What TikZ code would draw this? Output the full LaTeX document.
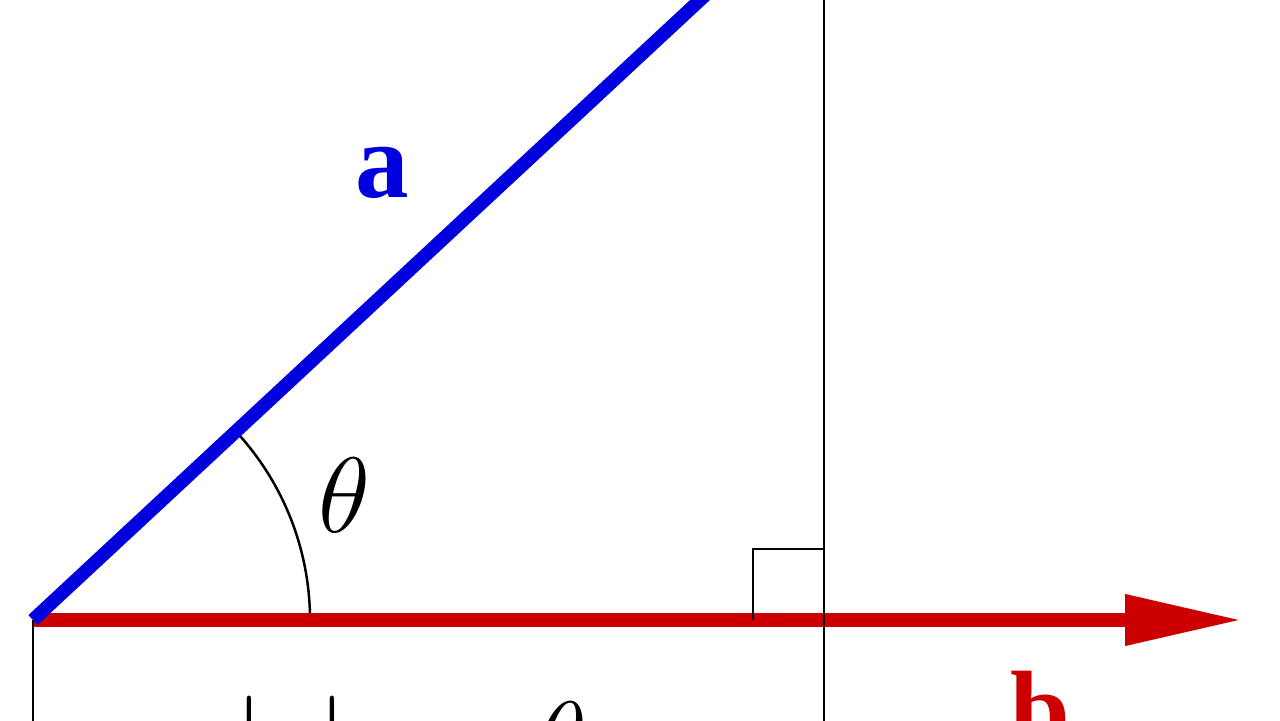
\RequirePackage{fix-cm}
\documentclass[tikz,border=0pt]{standalone}
\usepackage{fontspec}
\newfontfamily\tms{Liberation Serif}
\usetikzlibrary{arrows.meta,calc}
\definecolor{vecblue}{RGB}{0,0,222}
\definecolor{vecred}{RGB}{204,0,0}
\tikzset{
  thin line/.style={draw=black,line width=0.05cm},
  vec/.style={line width=0.27cm,line cap=butt},
  lbl/.style={inner sep=0pt,font=\fontsize{61}{70}\selectfont},
}
\begin{document}
\begin{tikzpicture}[x=0.02cm,y=-0.02cm]
\useasboundingbox (0,0) rectangle (1280,720);
\clip (0,0) rectangle (1280,720);
\fill[white] (0,0) rectangle (1280,720);
% key points
\coordinate (O) at (33,620);
\coordinate (A) at (740,-37.2);
\coordinate (P) at (824,620);
\coordinate (T) at (824,-5);
\coordinate (Pb) at (824,725);
\coordinate (Lb) at (33,725);
\coordinate (B) at (1242,620);
\coordinate (S1) at (753,620);
\coordinate (S2) at (753,549);
\coordinate (S3) at (824,549);
% angle arc
\draw[thin line] ($(O)+(277,0)$) arc[start angle=0,end angle=-42.9,radius=277];
% vectors
\draw[vec,draw=vecred,-{Triangle[length=2.34cm,width=0.96cm]}] (O) -- (B);
\draw[vec,draw=vecblue] (O) -- (A);
% projection lines
\draw[thin line] (T) -- (Pb);
\draw[thin line] (O) -- (Lb);
\draw[thin line] (S1) -- (S2) -- (S3);
% labels
\node[lbl,anchor=base,text=vecblue] (la) at (382,197) {\tms\bfseries a};
\node[lbl,anchor=base] (lt) at (344,532) {$\theta$};
\node[lbl,anchor=base west] (lp) at (234,776) {$|\mbox{\textcolor{vecblue}{\tms\bfseries a}}|\mkern2.5mu\cos\mkern1mu\theta$};
\node[lbl,anchor=base west,text=vecred] (lb) at (1010,745) {\tms\bfseries b};
\end{tikzpicture}
\end{document}
